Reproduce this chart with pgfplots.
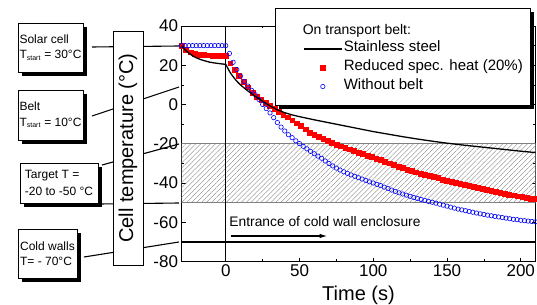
\documentclass[border=0pt]{standalone}
\usepackage{fontspec}
\setmainfont{Liberation Sans}
\usepackage{pgfplots}
\pgfplotsset{compat=1.18}
\usetikzlibrary{patterns.meta,arrows.meta}
\newcommand\fs[2]{\fontsize{#1bp}{#2bp}\selectfont}
\tikzset{shadowed/.style={preaction={fill=black, transform canvas={xshift=4bp, yshift=-4bp}}},
  annot/.style={shadowed, draw=black, line width=0.7bp, fill=white, align=left, inner xsep=1bp, inner ysep=0bp, font=\fs{12}{15.5}}}
\begin{document}
\begin{tikzpicture}
\path[use as bounding box] (0,0) rectangle (537bp,305bp);
% connector lines
\draw[line width=1.1bp] (92bp,258bp) -- (179bp,259bp);
\draw[line width=1.1bp] (92bp,189bp) -- (179bp,218bp);
\draw[line width=1.1bp] (102bp,140bp) -- (179bp,161bp);
\draw[line width=1.1bp] (100bp,101bp) -- (179bp,102bp);
\draw[line width=1.1bp] (84bp,48bp) -- (179bp,63bp);
\begin{axis}[
  scale only axis, width=354bp, height=235.5bp,
  at={(181.5bp,43.5bp)}, anchor=south west,
  clip mode=individual,
  xmin=-30, xmax=210, ymin=-80, ymax=40,
  xtick={0,50,100,150,200}, minor x tick num=1,
  ytick={-80,-60,-40,-20,0,20,40}, minor y tick num=1,
  tick align=inside, major tick length=4bp, minor tick length=2.5bp,
  tick style={black, line width=0.6bp},
  axis line style={line width=0.8bp},
  ticklabel style={font=\fs{17}{17}},
  /pgf/number format/assume math mode=true,
  xlabel={Time (s)},
  xlabel style={font=\fs{20}{20}, at={(axis description cs:0.5,-0.145)}, anchor=center},
  ylabel={Cell temperature (°C)},
  ylabel style={font=\fs{20}{20}, draw=black, line width=0.6bp, fill=white, minimum width=234bp, minimum height=30bp, inner sep=0pt,
    at={(axis description cs:-0.1511,0.482)}, anchor=center},
  legend image code/.code={\path (-18bp,0bp); \draw[mark repeat=2,mark phase=2,#1] plot coordinates {(0bp,0bp) (19bp,0bp) (38bp,0bp)};},
  legend cell align=left,
  legend style={at={(axis description cs:0.9845,1.0658)}, anchor=north east, draw=none, fill=none,
    font=\fs{15}{15}, inner xsep=6bp, inner ysep=13bp, row sep=7bp,
    nodes={inner sep=1bp, text height=0.75em, text depth=0.25em}},
]
% target band
\addplot[forget plot, draw=gray, line width=0.6bp, pattern={Lines[angle=45, distance=3.5bp, line width=0.35bp]}, pattern color=gray]
  coordinates {(-30,-50) (210,-50) (210,-20) (-30,-20) (-30,-50)};
% reference lines
\addplot[forget plot, black, line width=1.1bp] coordinates {(0,-80) (0,40)};
\addplot[forget plot, black, line width=1.6bp] coordinates {(-30,-70) (210,-70)};
% red: reduced spec heat
\addplot[forget plot, only marks, mark=square*, mark size=2.4bp, red, mark options={draw=red, fill=red}] table {
-30 30
-27 28.0
-24 26.6
-21 25.8
-18 25.4
-15 25.2
-12 25.1
-9 25.0
-6 25.0
-3 25.0
0 25.0
3 21.0
6 17.8
9 14.8
12 11.8
15 8.8
18 6.1
21 4.0
24 2.4
27 1.0
30 -0.5
33 -2.0
36 -3.5
39 -5.0
42 -6.5
45 -8.0
48 -9.5
51 -11.0
54 -12.6
57 -14.2
60 -15.5
63 -16.6
66 -17.6
69 -18.5
72 -19.4
75 -20.3
78 -21.2
81 -22.0
84 -22.8
87 -23.6
90 -24.4
93 -25.2
96 -26.0
99 -26.8
102 -27.6
105 -28.3
108 -29.1
111 -29.9
114 -30.7
117 -31.5
120 -32.3
123 -33.1
126 -33.8
129 -34.5
132 -35.2
135 -35.8
138 -36.3
141 -36.9
144 -37.5
147 -38.2
150 -38.8
153 -39.3
156 -39.9
159 -40.4
162 -40.9
165 -41.4
168 -41.9
171 -42.4
174 -42.9
177 -43.4
180 -43.9
183 -44.4
186 -44.8
189 -45.3
192 -45.8
195 -46.2
198 -46.7
201 -47.1
204 -47.5
207 -47.9
210 -48.2
};
% blue: without belt
\addplot[forget plot, only marks, mark=o, mark size=2.2bp, blue, mark options={line width=0.6bp}] table {
-30 30
-27.5 30
-25 30
-22.5 30
-20 30
-17.5 30
-15 30
-12.5 30
-10 30
-7.5 30
-5 30
-2.5 30
0 30
2.5 26.0
5 21.5
7.5 17.8
10 14.5
12.5 11.7
15 9.4
17.5 7.2
20 5.0
22.5 2.5
25 0.0
27.5 -2.1
30 -4.3
32.5 -6.7
35 -9.2
37.5 -11.5
40 -13.5
42.5 -15.4
45 -16.9
47.5 -18.5
50 -19.9
52.5 -21.3
55 -22.6
57.5 -23.9
60 -25.1
62.5 -26.3
65 -27.4
67.5 -28.8
70 -30.1
72.5 -31.3
75 -32.4
77.5 -33.4
80 -34.3
82.5 -35.1
85 -35.9
87.5 -36.6
90 -37.3
92.5 -38.0
95 -38.7
97.5 -39.4
100 -40.0
102.5 -40.7
105 -41.3
107.5 -42.1
110 -42.8
112.5 -43.6
115 -44.3
117.5 -45.0
120 -45.6
122.5 -46.2
125 -46.8
127.5 -47.4
130 -47.9
132.5 -48.4
135 -48.9
137.5 -49.4
140 -49.8
142.5 -50.3
145 -50.8
147.5 -51.3
150 -51.8
152.5 -52.3
155 -52.8
157.5 -53.3
160 -53.7
162.5 -54.1
165 -54.5
167.5 -54.9
170 -55.3
172.5 -55.7
175 -56.0
177.5 -56.4
180 -56.7
182.5 -57.0
185 -57.3
187.5 -57.6
190 -57.9
192.5 -58.2
195 -58.5
197.5 -58.7
200 -59.0
202.5 -59.2
205 -59.4
207.5 -59.6
210 -59.8
};
% black: stainless steel
\addplot[forget plot, black, line width=1.3bp] table {
-30 30
-28 28.2
-26 26.8
-24 25.6
-22 24.6
-20 23.8
-17 22.9
-14 22.2
-11 21.6
-8 21.2
-5 20.9
-2 20.6
0 20.5
1 19.0
2 17.6
3 16.3
4 15.2
6 13.2
8 11.5
10 10.0
12 8.7
15 6.9
18 5.2
21 3.7
24 2.2
27 0.7
30 -0.7
35 -2.7
40 -4.2
45 -5.3
50 -6.2
60 -7.8
70 -9.3
80 -10.8
90 -12.3
100 -13.8
110 -15.1
120 -16.4
130 -17.6
140 -18.7
150 -19.7
160 -20.6
170 -21.4
180 -22.2
190 -23.0
200 -23.8
210 -24.5
};
% legend frame with shadow
\fill[black] (axis description cs:0.2754,1.0594) rectangle (axis description cs:0.9958,0.6475);
\filldraw[fill=white, draw=black, line width=0.7bp] (axis description cs:0.2641,1.0764) rectangle (axis description cs:0.9845,0.6645);
\addlegendimage{empty legend}
\addlegendentry{\hspace*{-41bp}\raisebox{-2bp}{\fs{14}{14}On transport belt:}}
\addlegendimage{black, line width=2bp}
\addlegendentry{Stainless steel}
\addlegendimage{only marks, mark=square*, mark size=2.4bp, red}
\addlegendentry{Reduced spec. heat (20\%)}
\addlegendimage{only marks, mark=o, mark size=2.2bp, blue, mark options={line width=0.6bp}}
\addlegendentry{Without belt}
\node[anchor=west, font=\fs{13.8}{14}, inner sep=0pt] at (axis cs:2.4,-59.4) {Entrance of cold wall enclosure};
\draw[line width=1.3bp, -{Latex[length=8bp,width=4.5bp]}] (axis cs:3.5,-67) -- (axis cs:69,-67);
\end{axis}
% annotation boxes
\node[annot, minimum width=65bp, minimum height=49bp] at (50.5bp,257.5bp) {Solar cell\\T\textsubscript{\fs{7}{7}start} = 30°C};
\node[annot, minimum width=65bp, minimum height=50bp] at (50.5bp,190bp) {Belt\\T\textsubscript{\fs{7}{7}start} = 10°C};
\node[annot, minimum width=78bp, minimum height=40bp, font=\fs{12}{17.5}] at (59bp,122bp) {Target T =\\-20 to -50 °C};
\node[annot, minimum width=59bp, minimum height=49bp, font=\fs{12}{15}] at (47.5bp,51.5bp) {Cold walls\\T= - 70°C};
\end{tikzpicture}
\end{document}
